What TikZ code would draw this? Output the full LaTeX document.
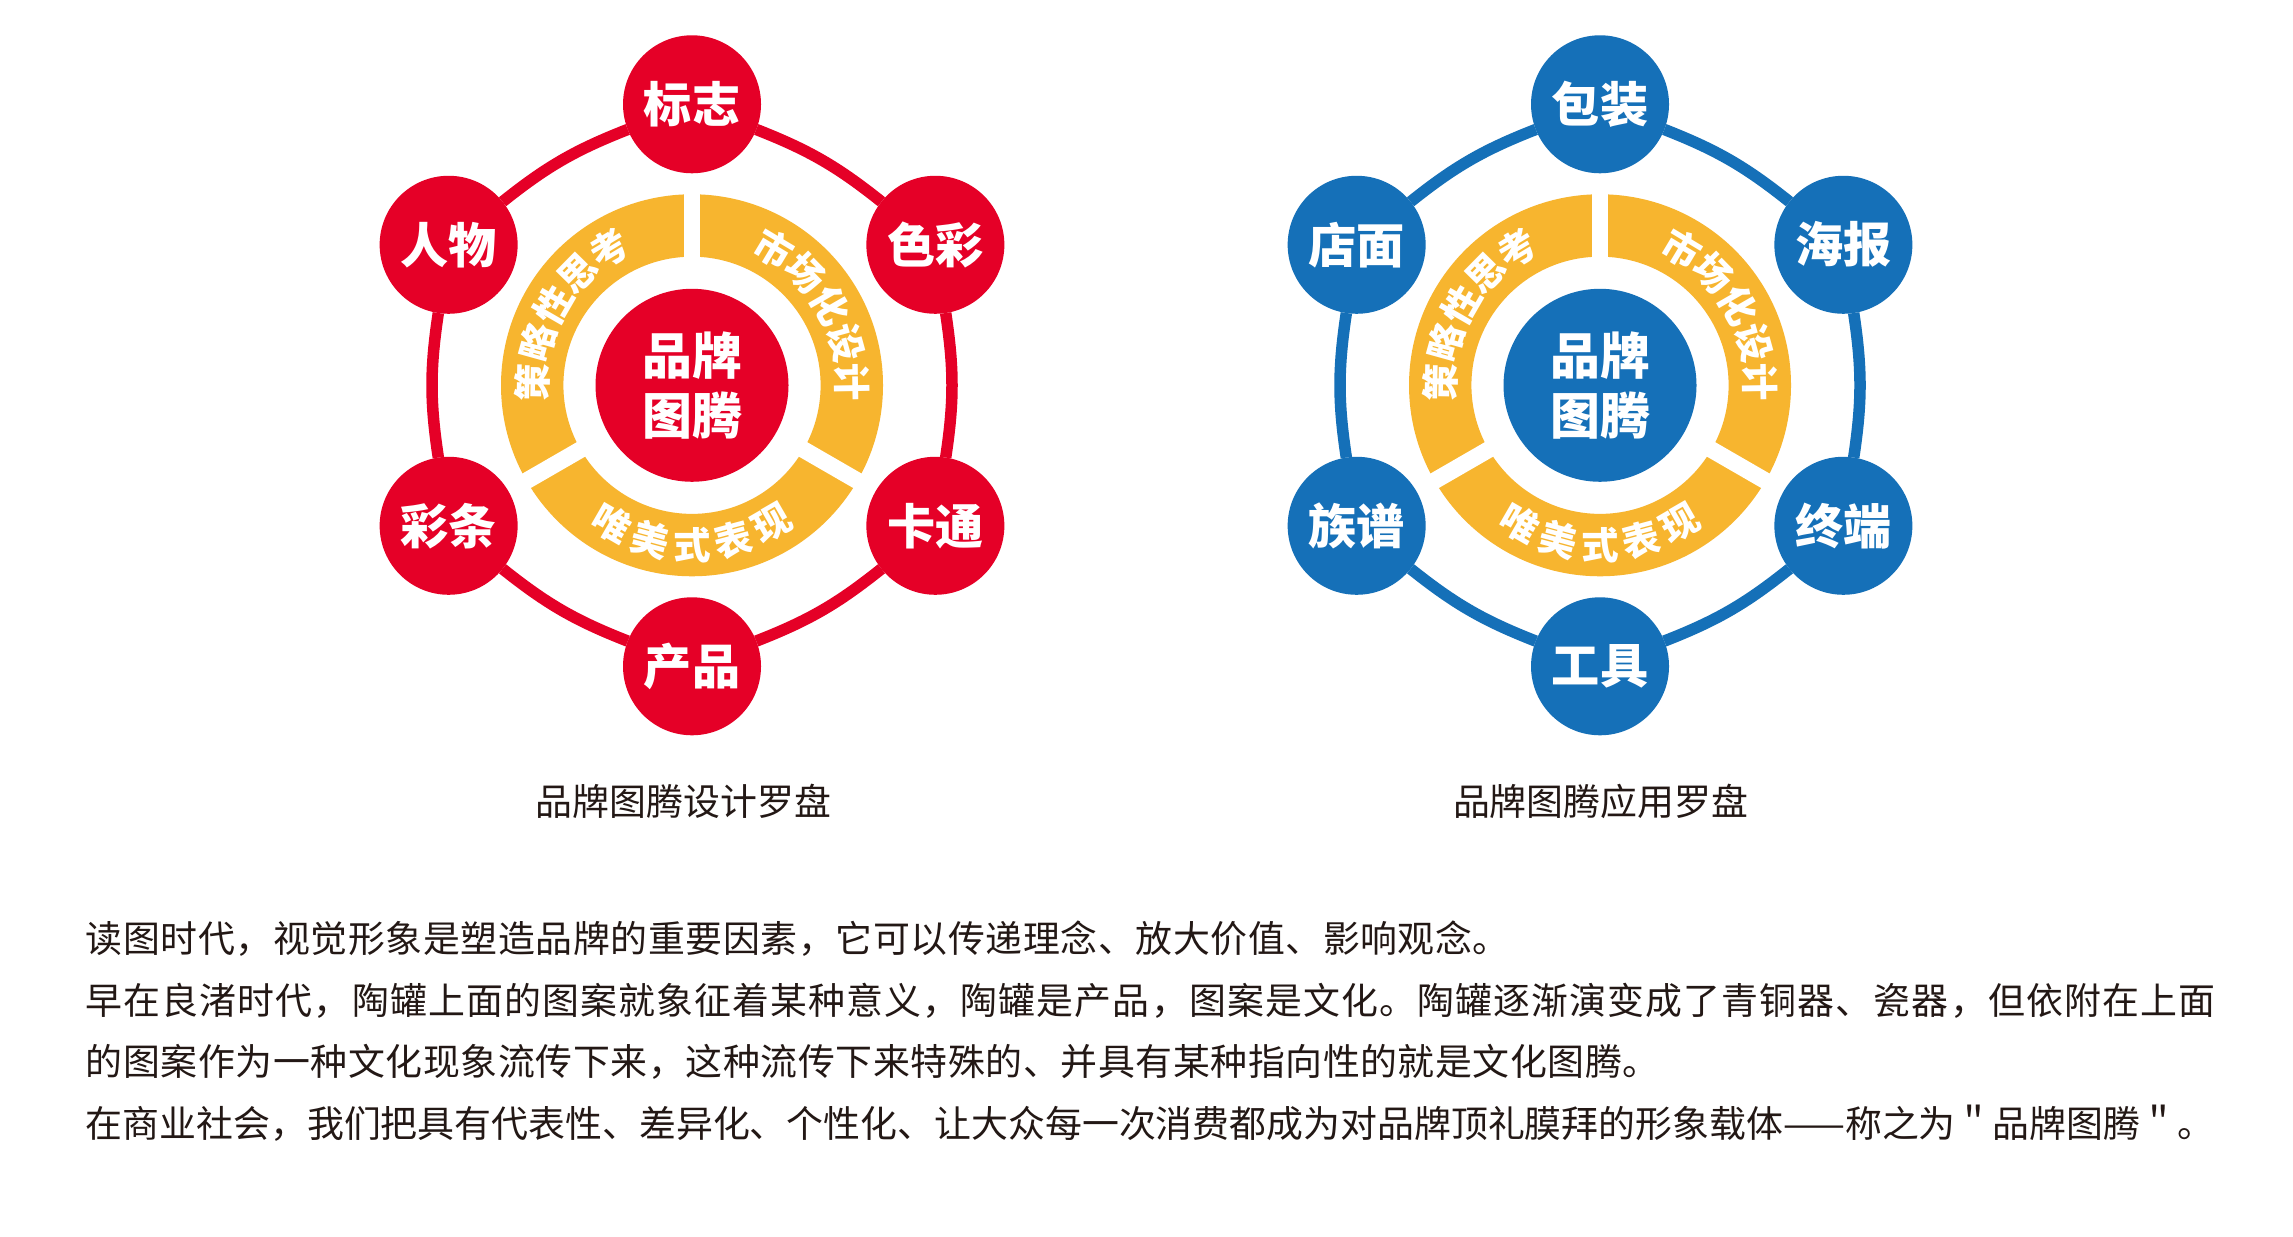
\documentclass[tikz,border=0pt]{standalone}
\usepackage{fontspec}
\setmainfont{Noto Sans CJK SC}
\usepackage{xcolor}
\usepackage{tikz}
\definecolor{totemRed}{HTML}{E50027}
\definecolor{totemBlue}{HTML}{1570B8}
\definecolor{totemGold}{HTML}{F7B52F}
\definecolor{totemInk}{HTML}{231815}

\begin{document}
\begin{tikzpicture}[
  hub/.style={circle,fill=#1,text=white,minimum size=1.93cm,inner sep=0pt,align=center,font=\bfseries\fontsize{14.2pt}{17.1pt}\selectfont},
  spoke/.style={circle,fill=#1,text=white,minimum size=1.38cm,inner sep=0pt,outer sep=0pt,font=\bfseries\fontsize{13.7pt}{16pt}\selectfont},
  orbit/.style={draw=#1,line width=0.115cm},
  band/.style={fill=totemGold,even odd rule},
  gap/.style={draw=white,line width=0.167cm},
  arcword/.style={text=white,inner sep=0pt,font=\bfseries\fontsize{10.7pt}{12pt}\selectfont},
  caption/.style={inner sep=0pt,text=totemInk,font=\fontsize{10.5pt}{12pt}\selectfont},
  body/.style={anchor=base west,inner sep=0pt,text=totemInk,font=\fontsize{10.5pt}{12pt}\selectfont\addfontfeature{LetterSpace=#1}},
  body/.default=0
]
\path[use as bounding box,fill=white] (0,0) rectangle (22.93,12.36);

% design compass
\begin{scope}[shift={(6.92,8.507)}]
\fill[band] (0,0) circle[radius=1.91] (0,0) circle[radius=1.286];
\foreach \ang in {90,210,330} \draw[gap] (0,0) -- (\ang:2);
\node[hub=totemRed] (lhub) at (0,0) {品牌\\图腾};
\foreach \nm/\ang/\lab in {lbz/90/标志,lrw/150/人物,lct/210/彩条,lcp/270/产品,lkt/330/卡通,lsc/30/色彩}
  \node[spoke=totemRed] (\nm) at (\ang:2.81) {\lab};
\foreach \p/\q in {lbz/lrw,lrw/lct,lct/lcp,lcp/lkt,lkt/lsc,lsc/lbz}
  \draw[orbit=totemRed] (\p) to[bend right=8.6] (\q);
\foreach \ch [count=\i] in {策,略,性,思,考}
  \node[arcword,rotate={103.5-14.5*\i}] (lcl\i) at ({193.5-14.5*\i}:1.6) {\ch};
\foreach \ch [count=\i] in {市,场,化,设,计}
  \node[arcword,rotate={-16.5-14.5*\i}] (lcr\i) at ({73.5-14.5*\i}:1.6) {\ch};
\foreach \ch [count=\i] in {唯,美,式,表,现}
  \node[arcword,rotate={-45+15*\i}] (lcb\i) at ({225+15*\i}:1.6) {\ch};
\end{scope}
\node[caption] (lcap) at (6.835,4.35) {品牌图腾设计罗盘};

% application compass
\begin{scope}[shift={(16.00,8.507)}]
\fill[band] (0,0) circle[radius=1.91] (0,0) circle[radius=1.286];
\foreach \ang in {90,210,330} \draw[gap] (0,0) -- (\ang:2);
\node[hub=totemBlue] (rhub) at (0,0) {品牌\\图腾};
\foreach \nm/\ang/\lab in {rbz/90/包装,rdm/150/店面,rzp/210/族谱,rgj/270/工具,rzd/330/终端,rhb/30/海报}
  \node[spoke=totemBlue] (\nm) at (\ang:2.81) {\lab};
\foreach \p/\q in {rbz/rdm,rdm/rzp,rzp/rgj,rgj/rzd,rzd/rhb,rhb/rbz}
  \draw[orbit=totemBlue] (\p) to[bend right=8.6] (\q);
\foreach \ch [count=\i] in {策,略,性,思,考}
  \node[arcword,rotate={103.5-14.5*\i}] (rcl\i) at ({193.5-14.5*\i}:1.6) {\ch};
\foreach \ch [count=\i] in {市,场,化,设,计}
  \node[arcword,rotate={-16.5-14.5*\i}] (rcr\i) at ({73.5-14.5*\i}:1.6) {\ch};
\foreach \ch [count=\i] in {唯,美,式,表,现}
  \node[arcword,rotate={-45+15*\i}] (rcb\i) at ({225+15*\i}:1.6) {\ch};
\end{scope}
\node[caption] (rcap) at (16.006,4.35) {品牌图腾应用罗盘};

% text below
\node[body=1.6] (line1) at (0.85,2.83) {读图时代，视觉形象是塑造品牌的重要因素，它可以传递理念、放大价值、影响观念。};
\node[body=3.1] (line2) at (0.85,2.21) {早在良渚时代，陶罐上面的图案就象征着某种意义，陶罐是产品，图案是文化。陶罐逐渐演变成了青铜器、瓷器，但依附在上面};
\node[body=1.6] (line3) at (0.85,1.60) {的图案作为一种文化现象流传下来，这种流传下来特殊的、并具有某种指向性的就是文化图腾。};
\node[body] (line4) at (0.85,0.98) {在商业社会，我们把具有代表性、差异化、个性化、让大众每一次消费都成为对品牌顶礼膜拜的形象载体——称之为＂品牌图腾＂。};
\end{tikzpicture}
\end{document}
